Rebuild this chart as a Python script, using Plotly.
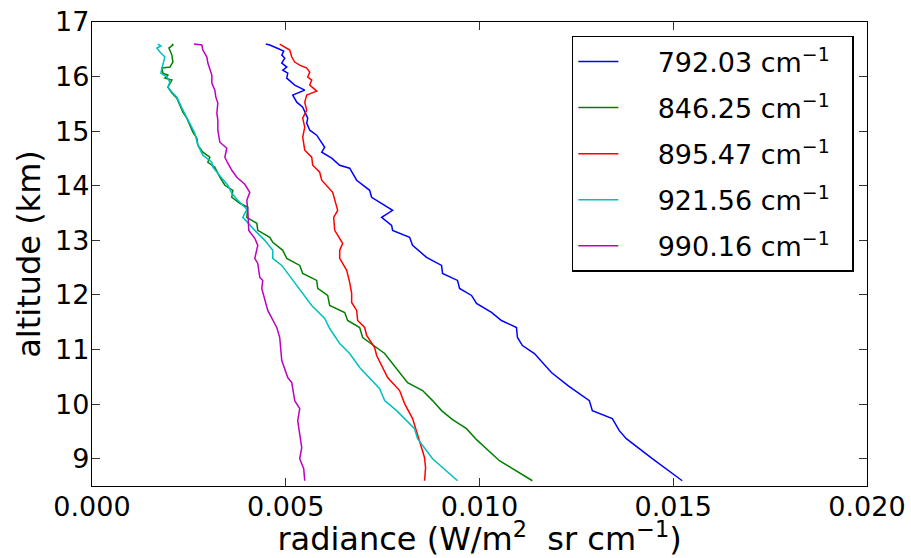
import plotly.graph_objects as go

labels = ["792.03 cm<sup>−1</sup>", "846.25 cm<sup>−1</sup>", "895.47 cm<sup>−1</sup>",
          "921.56 cm<sup>−1</sup>", "990.16 cm<sup>−1</sup>"]
colors = ["#0000ff", "#008000", "#ff0000", "#00bfbf", "#bf00bf"]

# 792.03
blue_rad = [0.004485, 0.004588, 0.004768, 0.004948, 0.004897, 0.004974, 0.004897, 0.005026, 0.004923, 0.005052,
            0.005026, 0.005155, 0.005232, 0.005490, 0.005180, 0.005284, 0.005438, 0.005567, 0.005541, 0.005619,
            0.005799, 0.006005, 0.005928, 0.006186, 0.006392, 0.006649, 0.006830, 0.007165, 0.007216, 0.007758,
            0.007474, 0.007732, 0.007758, 0.008196, 0.008273, 0.008634, 0.009021, 0.009046, 0.009433, 0.009485,
            0.009794, 0.009923, 0.010309, 0.010567, 0.010954, 0.010979, 0.011108, 0.011418, 0.011856, 0.012300,
            0.012835, 0.012912, 0.013428, 0.013608, 0.013789, 0.014459, 0.014820, 0.015232]
blue_alt = [16.596, 16.578, 16.523, 16.468, 16.394, 16.339, 16.248, 16.174, 16.119, 16.064,
            15.972, 15.881, 15.844, 15.752, 15.661, 15.532, 15.440, 15.239, 15.147, 15.018,
            14.927, 14.706, 14.615, 14.505, 14.376, 14.321, 14.101, 13.917, 13.789, 13.550,
            13.422, 13.275, 13.183, 13.055, 12.908, 12.688, 12.541, 12.394, 12.266, 12.119,
            11.991, 11.844, 11.679, 11.532, 11.404, 11.220, 11.073, 10.927, 10.578, 10.330,
            10.064, 9.881, 9.734, 9.514, 9.367, 9.000, 8.817, 8.596]

# 846.25
green_rad = [0.002062, 0.002088, 0.001985, 0.002062, 0.002088, 0.002010, 0.001804, 0.001830, 0.001959, 0.001881,
             0.002062, 0.001959, 0.002062, 0.002191, 0.002268, 0.002345, 0.002448, 0.002526, 0.002603, 0.002706,
             0.002732, 0.002861, 0.003041, 0.002990, 0.003170, 0.003299, 0.003428, 0.003634, 0.003608, 0.003814,
             0.004021, 0.003995, 0.004253, 0.004278, 0.004588, 0.004665, 0.004923, 0.005026, 0.005361, 0.005438,
             0.005799, 0.005825, 0.006082, 0.006134, 0.006521, 0.006598, 0.006907, 0.006985, 0.007552, 0.008144,
             0.008531, 0.008789, 0.009021, 0.009304, 0.009665, 0.009923, 0.010515, 0.011366]
green_alt = [16.596, 16.578, 16.523, 16.394, 16.266, 16.174, 16.156, 16.064, 16.028, 15.972,
             15.936, 15.807, 15.697, 15.606, 15.477, 15.349, 15.239, 15.110, 14.982, 14.872,
             14.743, 14.615, 14.523, 14.431, 14.339, 14.156, 14.009, 13.917, 13.789, 13.679,
             13.606, 13.422, 13.312, 13.183, 13.055, 12.963, 12.817, 12.670, 12.541, 12.394,
             12.266, 12.119, 11.991, 11.807, 11.679, 11.532, 11.404, 11.220, 10.927, 10.394,
             10.248, 10.064, 9.881, 9.716, 9.550, 9.349, 8.963, 8.596]

# 895.47
red_rad = [0.004845, 0.004923, 0.005103, 0.005155, 0.005232, 0.005361, 0.005541, 0.005619, 0.005567, 0.005670,
           0.005619, 0.005799, 0.005541, 0.005490, 0.005541, 0.005438, 0.005490, 0.005438, 0.005490, 0.005670,
           0.005696, 0.005876, 0.005928, 0.006211, 0.006340, 0.006237, 0.006263, 0.006469, 0.006392, 0.006392,
           0.006572, 0.006649, 0.006701, 0.006701, 0.006830, 0.006856, 0.007036, 0.007088, 0.007294, 0.007345,
           0.007500, 0.007629, 0.007938, 0.008067, 0.008273, 0.008402, 0.008505, 0.008582, 0.008608, 0.008582]
red_alt = [16.596, 16.560, 16.486, 16.358, 16.266, 16.211, 16.156, 16.083, 15.991, 15.936,
           15.844, 15.734, 15.661, 15.532, 15.385, 15.239, 15.073, 14.890, 14.651, 14.523,
           14.376, 14.248, 14.101, 13.881, 13.550, 13.422, 13.183, 12.945, 12.817, 12.670,
           12.450, 12.229, 12.028, 11.862, 11.716, 11.532, 11.404, 11.257, 11.037, 10.890,
           10.670, 10.486, 10.248, 10.009, 9.734, 9.459, 9.202, 9.018, 8.835, 8.596]

# 921.56
cyan_rad = [0.001701, 0.001778, 0.001675, 0.001753, 0.001881, 0.001830, 0.001804, 0.001778, 0.001933, 0.002010,
            0.001959, 0.002062, 0.002191, 0.002320, 0.002448, 0.002655, 0.002732, 0.002861, 0.003093, 0.003119,
            0.003351, 0.003505, 0.003608, 0.003763, 0.003995, 0.003892, 0.004201, 0.004459, 0.004665, 0.004665,
            0.004897, 0.005052, 0.005361, 0.005670, 0.006005, 0.006134, 0.006392, 0.006649, 0.006907, 0.007423,
            0.007552, 0.007861, 0.008325, 0.008402, 0.008789, 0.009433]
cyan_alt = [16.596, 16.560, 16.523, 16.450, 16.358, 16.248, 16.156, 16.064, 15.991, 15.899,
            15.807, 15.716, 15.624, 15.422, 15.239, 14.963, 14.743, 14.560, 14.431, 14.339,
            14.138, 14.009, 13.862, 13.734, 13.569, 13.422, 13.183, 13.000, 12.817, 12.670,
            12.541, 12.394, 12.119, 11.807, 11.569, 11.385, 11.110, 10.927, 10.670, 10.284,
            10.064, 9.881, 9.550, 9.367, 9.000, 8.596]

# 990.16
mag_rad = [0.002629, 0.002835, 0.002861, 0.002964, 0.002990, 0.003041, 0.003093, 0.003093, 0.003170, 0.003196,
           0.003247, 0.003222, 0.003247, 0.003247, 0.003299, 0.003479, 0.003428, 0.003505, 0.003608, 0.003737,
           0.003943, 0.004072, 0.003995, 0.004021, 0.004046, 0.004201, 0.004278, 0.004201, 0.004278, 0.004330,
           0.004407, 0.004381, 0.004536, 0.004768, 0.004845, 0.004897, 0.005052, 0.005155, 0.005232, 0.005361,
           0.005309, 0.005412, 0.005361, 0.005464, 0.005490]
mag_alt = [16.596, 16.578, 16.486, 16.358, 16.248, 16.119, 16.028, 15.881, 15.752, 15.624,
           15.514, 15.330, 15.202, 15.018, 14.798, 14.688, 14.523, 14.413, 14.284, 14.156,
           14.028, 13.881, 13.734, 13.550, 13.183, 13.037, 12.908, 12.670, 12.578, 12.321,
           12.266, 12.119, 11.716, 11.404, 11.220, 10.798, 10.486, 10.394, 10.064, 9.917,
           9.697, 9.202, 9.000, 8.817, 8.596]

xs = [blue_rad, green_rad, red_rad, cyan_rad, mag_rad]
ys = [blue_alt, green_alt, red_alt, cyan_alt, mag_alt]

x_ticks = [0.000, 0.005, 0.010, 0.015, 0.020]
y_ticks = [9, 10, 11, 12, 13, 14, 15, 16, 17]

NB = "\u00a0"
fig = go.Figure()
for i in range(5):
    fig.add_trace(go.Scatter(x=xs[i], y=ys[i], mode="lines", name=NB * 4 + labels[i] + NB * 2,
                             line=dict(color=colors[i], width=1.5), legendgroup=str(i)))

font = "DejaVu Sans, Arial, sans-serif"
axis_common = dict(showline=True, linecolor="black", linewidth=1.3, mirror="ticks",
                   ticks="inside", ticklen=8, tickwidth=1, tickcolor="#333333",
                   showgrid=False, zeroline=False, automargin=False,
                   tickfont=dict(size=27))
fig.update_layout(
    width=911, height=558,
    margin=dict(l=92, r=44, t=22, b=72),
    paper_bgcolor="white", plot_bgcolor="white",
    font=dict(family=font, size=27, color="black"),
    showlegend=True,
    legend=dict(x=0.983, y=0.970, xanchor="right", yanchor="top",
                bordercolor="black", borderwidth=1.5, bgcolor="white",
                font=dict(size=27), tracegroupgap=8, itemwidth=40),
    xaxis=dict(range=[0, 0.02], tickvals=x_ticks, ticktext=[f"{v:.3f}" for v in x_ticks],
               ticklabelstandoff=-4,
               title=dict(text="radiance (W/m<sup>2</sup>  sr cm<sup>−1</sup>)", font=dict(size=32), standoff=20),
               **axis_common),
    yaxis=dict(range=[8.5, 17], tickvals=y_ticks, ticktext=[str(v) for v in y_ticks],
               ticklabelstandoff=-4,
               title=dict(text="altitude (km)", font=dict(size=32), standoff=4),
               **axis_common),
)

fig.write_html("out.html", config={"displayModeBar": False},
               post_script="document.body.style.margin='0';document.body.style.overflow='hidden';")
